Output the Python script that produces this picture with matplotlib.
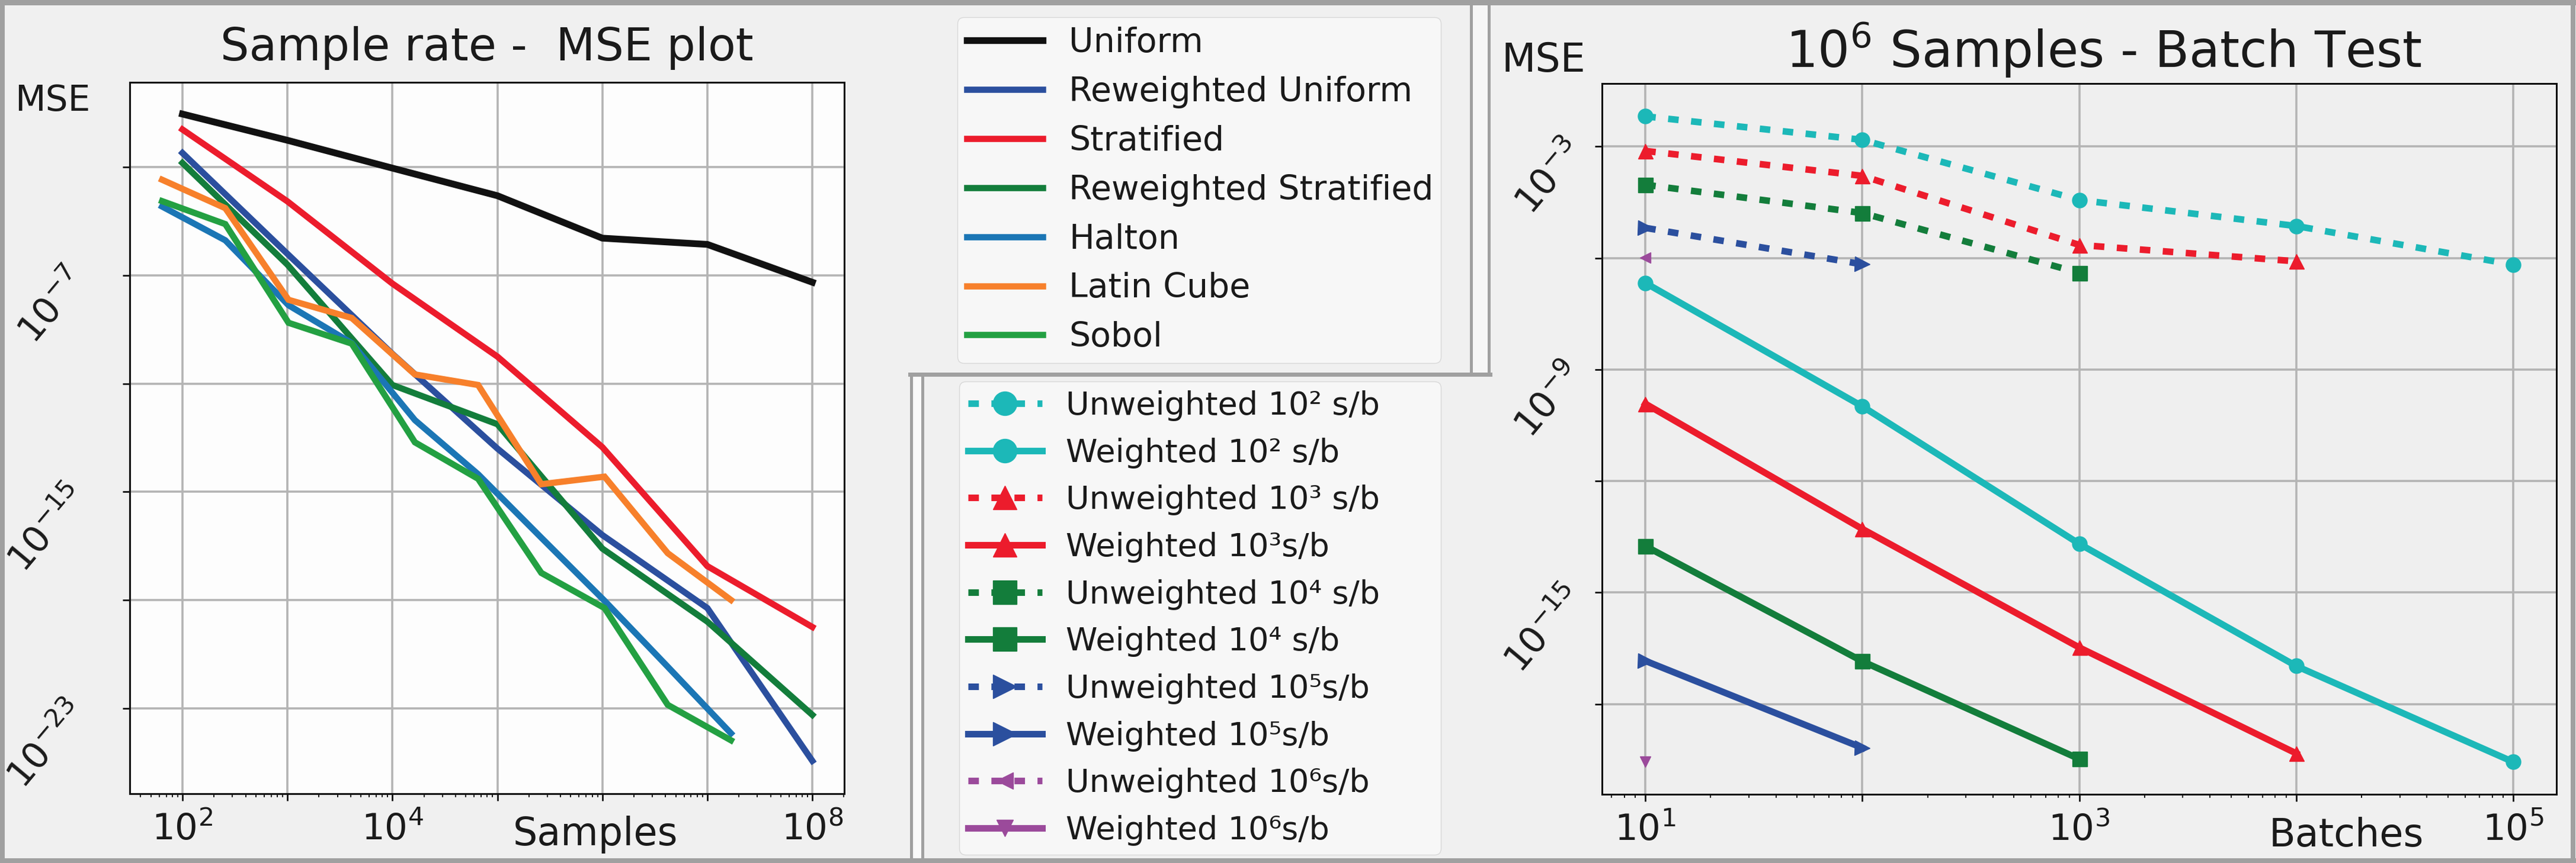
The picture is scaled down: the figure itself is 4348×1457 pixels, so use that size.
import numpy as np
import matplotlib
matplotlib.use('Agg')
import matplotlib.pyplot as plt
from matplotlib.lines import Line2D
from matplotlib.patches import Rectangle
from matplotlib.ticker import FixedLocator, FixedFormatter, LogLocator, NullFormatter, NullLocator

W, H, DPI = 4348, 1457, 100

# ---------------- left chart: Sample rate - MSE ----------------
samples_dec = [1e2, 1e3, 1e4, 1e5, 1e6, 1e7, 1e8]
samples_p4 = [64, 256, 1024, 4096, 16384, 65536, 262144, 1048576, 4194304, 16777216]

uniform = [9.33e-2, 1.0e-2, 9.33e-4, 8.91e-5, 2.40e-6, 1.41e-6, 5.62e-8]
rw_uniform = [3.39e-3, 6.31e-7, 1.26e-10, 3.98e-14, 2.51e-17, 5.01e-20, 1.12e-25]
stratified = [2.51e-2, 5.50e-5, 5.01e-8, 1.0e-10, 4.47e-14, 1.78e-18, 1.0e-20]
rw_stratified = [1.45e-3, 2.51e-7, 8.91e-12, 3.16e-13, 7.94e-18, 1.58e-20, 5.62e-24]
halton = [3.55e-5, 2.0e-6, 7.94e-9, 3.16e-10, 4.47e-13, 4.47e-15, 2.0e-17, 9.33e-20, 3.39e-22, 1.17e-24]
latin = [3.47e-4, 3.09e-5, 1.26e-8, 2.69e-9, 2.19e-11, 8.91e-12, 1.91e-15, 3.63e-15, 5.37e-18, 1.0e-19]
sobol = [5.62e-5, 7.94e-6, 1.78e-9, 3.02e-10, 6.76e-14, 3.02e-15, 1.0e-18, 5.01e-20, 1.32e-23, 6.46e-25]

left_labels = ['Uniform', 'Reweighted Uniform', 'Stratified', 'Reweighted Stratified',
               'Halton', 'Latin Cube', 'Sobol']
left_colors = ['#111111', '#2b4f9e', '#ec1c2c', '#137d3b', '#1b76b5', '#f7802b', '#23a042']

left_xticks = [1e2, 1e3, 1e4, 1e5, 1e6, 1e7, 1e8]
left_xticklabels = ['$10^{2}$', '', '$10^{4}$', '', '', '', '$10^{8}$']
left_yticks = [1e-3, 1e-7, 1e-11, 1e-15, 1e-19, 1e-23]
left_yticklabels = ['', '$10^{-7}$', '', '$10^{-15}$', '', '$10^{-23}$']

# ---------------- right chart: 10^6 samples batch test ----------------
batches = [1e1, 1e2, 1e3, 1e4, 1e5]
uw2 = [6.46e-3, 1.51e-3, 3.63e-5, 7.24e-6, 6.61e-7]
w2 = [2.14e-7, 1.02e-10, 2.04e-14, 1.05e-17, 2.75e-20]
uw3 = [7.59e-4, 1.62e-4, 2.24e-6, 8.13e-7]
w3 = [1.20e-10, 5.13e-14, 3.31e-17, 4.68e-20]
uw4 = [9.33e-5, 1.62e-5, 3.98e-7]
w4 = [1.78e-14, 1.41e-17, 3.31e-20]
uw5 = [6.46e-6, 6.76e-7]
w5 = [1.45e-17, 6.61e-20]
uw6 = [1.02e-6]
w6 = [2.75e-20]

right_labels = ['Unweighted 10\u00b2 s/b', 'Weighted 10\u00b2 s/b',
                'Unweighted 10\u00b3 s/b', 'Weighted 10\u00b3s/b',
                'Unweighted 10\u2074 s/b', 'Weighted 10\u2074 s/b',
                'Unweighted 10\u2075s/b', 'Weighted 10\u2075s/b',
                'Unweighted 10\u2076s/b', 'Weighted 10\u2076s/b']
right_colors = ['#1cb8b8', '#ec1c2c', '#137d3b', '#2b4f9e', '#9b4a9b']
right_markers_uw = ['o', '^', 's', '>', '<']
right_markers_w = ['o', '^', 's', '>', 'v']

right_xticks = [1e1, 1e2, 1e3, 1e4, 1e5]
right_xticklabels = ['$10^{1}$', '', '$10^{3}$', '', '$10^{5}$']
right_yticks = [1e-3, 1e-6, 1e-9, 1e-12, 1e-15, 1e-18]
right_yticklabels = ['$10^{-3}$', '', '$10^{-9}$', '', '$10^{-15}$', '']

TXT = '#1a1a1a'
plt.rcParams['font.family'] = ['DejaVu Sans']
plt.rcParams['text.color'] = TXT
plt.rcParams['xtick.color'] = TXT
plt.rcParams['ytick.color'] = TXT

fig = plt.figure(figsize=(W / DPI, H / DPI), dpi=DPI, facecolor='#f0f0f0')


def fx(x):
    return x / W


def fy(y):
    return 1 - y / H


def px(v):
    return v * 72.0 / DPI


FRAME = '#a0a0a0'


def fig_rect(x0, y0, x1, y1, fc):
    fig.add_artist(Rectangle((fx(x0), fy(y1)), fx(x1) - fx(x0), fy(y0) - fy(y1),
                             transform=fig.transFigure, facecolor=fc, edgecolor='none', zorder=0))


def fig_line(xs, ys, lw=5):
    fig.add_artist(Line2D([fx(v) for v in xs], [fy(v) for v in ys], color=FRAME,
                          lw=px(lw), transform=fig.transFigure, zorder=1,
                          solid_capstyle='projecting'))


# panel separators
fig_rect(1538, 632, 1557, H, '#fafafa')
fig_rect(2483, 0, 2513, 632, '#f6f6f6')
fig_line([1538, 1538], [632, H])
fig_line([1557, 1557], [632, H])
fig_line([1536, 2515], [632, 632], lw=7)
fig_line([2483, 2483], [0, 632])
fig_line([2513, 2513], [0, 632])
# outer border
fig_line([0, W], [4, 4], lw=9)
fig_line([0, W], [H - 4, H - 4], lw=8)
fig_line([4, 4], [0, H], lw=8)
fig_line([W - 5, W - 5], [0, H], lw=8)


def style_axes(ax, face):
    ax.set_facecolor(face)
    ax.set_axisbelow(True)
    for s in ax.spines.values():
        s.set_color('#111111')
        s.set_linewidth(2.2)
    ax.tick_params(which='major', length=8.6, width=2.0, labelsize=44, color='#111111')
    ax.tick_params(which='minor', length=4.5, width=1.4, color='#111111')
    ax.tick_params(axis='y', which='minor', length=0)
    ax.grid(True, which='major', color='#b4b4b4', lw=2.6)


# ---------------- left axes ----------------
axL = fig.add_axes([fx(219), fy(1340), fx(1425) - fx(219), fy(139) - fy(1340)])
axL.set_xscale('log')
axL.set_yscale('log')
left_series = [(samples_dec, uniform), (samples_dec, rw_uniform), (samples_dec, stratified),
               (samples_dec, rw_stratified), (samples_p4, halton), (samples_p4, latin),
               (samples_p4, sobol)]
left_lines = []
for (xs, ys), lab, col in zip(left_series, left_labels, left_colors):
    ln, = axL.plot(xs, ys, color=col, lw=7.6 if col != '#111111' else 8.2, label=lab,
                   solid_joinstyle='miter')
    left_lines.append(ln)
axL.set_xlim(10 ** 1.498, 10 ** 8.304)
axL.set_ylim(10 ** -26.165, 10 ** 0.143)
style_axes(axL, '#fdfdfd')
axL.xaxis.set_major_locator(FixedLocator(left_xticks))
axL.xaxis.set_major_formatter(FixedFormatter(left_xticklabels))
axL.xaxis.set_minor_locator(LogLocator(base=10, subs=np.arange(2, 10), numticks=50))
axL.xaxis.set_minor_formatter(NullFormatter())
axL.yaxis.set_major_locator(FixedLocator(left_yticks))
axL.yaxis.set_major_formatter(FixedFormatter(left_yticklabels))
axL.yaxis.set_minor_locator(NullLocator())
axL.tick_params(axis='x', which='major', pad=14)
axL.tick_params(axis='y', which='major', pad=52)
for t in axL.get_yticklabels():
    t.set_rotation(50)
    t.set_rotation_mode('anchor')
    t.set_ha('right')
    t.set_va('center')
axL.set_title('Sample rate -  MSE plot', fontsize=55, y=1.0308, pad=0, color=TXT)
axL.set_xlabel('Samples', fontsize=47, color=TXT, va='baseline')
axL.xaxis.set_label_coords(0.652, -0.0724)
axL.set_ylabel('MSE', fontsize=43, rotation=0, ha='left', va='baseline', color=TXT)
axL.yaxis.set_label_coords(-0.161, 0.960)

# ---------------- right axes ----------------
axR = fig.add_axes([fx(2704), fy(1341), fx(4315) - fx(2704), fy(140.6) - fy(1341)])
axR.set_xscale('log')
axR.set_yscale('log')
uw_series = [uw2, uw3, uw4, uw5, uw6]
w_series = [w2, w3, w4, w5, w6]
right_lines = []
dotted = (0, (1.6, 1.9))
for i in range(5):
    col = right_colors[i]
    ms = 18 if i < 4 else 13
    l1, = axR.plot(batches[:len(uw_series[i])], uw_series[i], color=col, lw=8, ls=dotted,
                   marker=right_markers_uw[i], ms=ms, label=right_labels[2 * i])
    l2, = axR.plot(batches[:len(w_series[i])], w_series[i], color=col, lw=8, ls='-',
                   marker=right_markers_w[i], ms=ms, label=right_labels[2 * i + 1])
    right_lines += [l1, l2]
axR.set_xlim(10 ** 0.8007, 10 ** 5.199)
axR.set_ylim(10 ** -20.43, 10 ** -1.30)
style_axes(axR, '#efefef')
axR.xaxis.set_major_locator(FixedLocator(right_xticks))
axR.xaxis.set_major_formatter(FixedFormatter(right_xticklabels))
axR.xaxis.set_minor_locator(LogLocator(base=10, subs=np.arange(2, 10), numticks=50))
axR.xaxis.set_minor_formatter(NullFormatter())
axR.yaxis.set_major_locator(FixedLocator(right_yticks))
axR.yaxis.set_major_formatter(FixedFormatter(right_yticklabels))
axR.yaxis.set_minor_locator(NullLocator())
axR.tick_params(axis='x', which='major', pad=14)
axR.tick_params(axis='y', which='major', pad=22)
for t in axR.get_yticklabels():
    t.set_rotation(50)
    t.set_rotation_mode('anchor')
    t.set_ha('right')
    t.set_va('center')
axR.set_title('$10^6$ Samples - Batch Test', fontsize=61, y=1.0222, pad=0, color=TXT, x=0.526)
axR.set_xlabel('Batches', fontsize=47, color=TXT, va='baseline')
axR.xaxis.set_label_coords(0.780, -0.0733)
axR.set_ylabel('MSE', fontsize=48, rotation=0, ha='left', va='baseline', color=TXT)
axR.yaxis.set_label_coords(-0.105, 1.0163)

# ---------------- legends ----------------
legL = fig.legend(handles=left_lines, labels=left_labels, loc='upper left',
                  bbox_to_anchor=(fx(1616), fy(29), fx(2432) - fx(1616), 0.0), mode='expand',
                  borderaxespad=0, fontsize=41, handlelength=2.25, handletextpad=0.78,
                  labelspacing=0.49, borderpad=0.28, fancybox=True, facecolor='#f7f7f7',
                  edgecolor='#d8d8d8', framealpha=1)
legR = fig.legend(handles=right_lines, labels=right_labels, loc='upper left',
                  bbox_to_anchor=(fx(1619), fy(644), fx(2432) - fx(1619), 0.0), mode='expand',
                  borderaxespad=0, fontsize=39, handlelength=2.3, handletextpad=0.75,
                  labelspacing=0.51, borderpad=0.28, fancybox=True, facecolor='#f7f7f7',
                  edgecolor='#d8d8d8', framealpha=1, markerscale=1.6)
for leg in (legL, legR):
    for t in leg.get_texts():
        t.set_color(TXT)

fig.savefig('out.png', dpi=DPI, facecolor=fig.get_facecolor())
